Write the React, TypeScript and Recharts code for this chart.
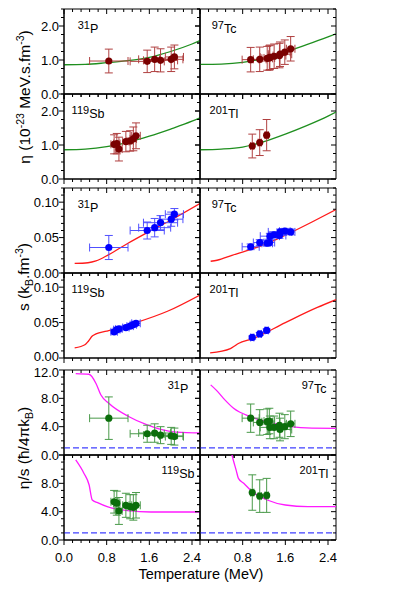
import React from 'react';
import { ComposedChart, Line, Scatter, XAxis, YAxis, ErrorBar, ReferenceArea, ReferenceLine } from 'recharts';

// ---------- axis ticks ----------
const X_MAX = 2.55;
const X_TICKS = [0, 0.16, 0.32, 0.48, 0.64, 0.8, 0.96, 1.12, 1.28, 1.44, 1.6, 1.76, 1.92, 2.08, 2.24, 2.4];
const X_MAJOR = [0, 0.8, 1.6, 2.4];
const ETA_TICKS = [0, 0.25, 0.5, 0.75, 1, 1.25, 1.5, 1.75, 2, 2.25, 2.5];
const ETA_MAJOR = [0, 1, 2];
const S_TICKS = [0, 0.01, 0.02, 0.03, 0.04, 0.05, 0.06, 0.07, 0.08, 0.09, 0.1, 0.11, 0.12];
const S_MAJOR = [0, 0.05, 0.1];
const R_TICKS = [0, 1, 2, 3, 4, 5, 6, 7, 8, 9, 10, 11, 12];
const R_MAJOR = [0, 4, 8, 12];
const KSS = 1.0;

// ---------- 31P ----------
const P31_T = [0.84, 1.56, 1.70, 1.81, 2.01, 2.07];
const P31_T_ERR = [0.36, 0.32, 0.30, 0.32, 0.22, 0.17];
const P31_ETA = [0.97, 0.96, 1.02, 0.99, 1.02, 1.09];
const P31_ETA_ERR = [0.35, 0.33, 0.36, 0.34, 0.36, 0.35];
const P31_S = [0.036, 0.060, 0.064, 0.071, 0.076, 0.083];
const P31_S_ERR = [0.017, 0.012, 0.013, 0.010, 0.010, 0.008];
const P31_RATIO = [5.2, 3.0, 3.1, 2.8, 2.7, 2.6];
const P31_RATIO_ERR = [3.0, 1.2, 1.3, 1.2, 1.2, 1.2];
const P31_ETA_CURVE = [[0, 0.86], [0.4, 0.87], [0.8, 0.92], [1.2, 0.98], [1.6, 1.08], [2.0, 1.25], [2.4, 1.47], [2.55, 1.57]];
const P31_S_CURVE = [[0.2, 0.0135], [0.45, 0.0145], [0.6, 0.017], [0.84, 0.026], [1.2, 0.042], [1.56, 0.057], [2.06, 0.077], [2.55, 0.098]];
const P31_RATIO_CURVE = [[0.22, 11.5], [0.47, 11.4], [0.6, 10.1], [0.69, 8.5], [0.84, 7.3], [1.22, 5.4], [1.56, 4.24], [1.94, 3.4], [2.3, 3.15], [2.55, 3.12]];

// ---------- 97Tc ----------
const TC97_T = [0.95, 1.12, 1.26, 1.30, 1.31, 1.39, 1.49, 1.50, 1.59, 1.70];
const TC97_T_ERR = [0.16, 0.12, 0.10, 0.10, 0.18, 0.10, 0.12, 0.22, 0.10, 0.08];
const TC97_ETA = [1.01, 1.02, 1.05, 1.06, 1.08, 1.11, 1.13, 1.17, 1.23, 1.33];
const TC97_ETA_ERR = [0.36, 0.36, 0.35, 0.36, 0.36, 0.36, 0.36, 0.36, 0.36, 0.36];
const TC97_S = [0.037, 0.043, 0.042, 0.043, 0.052, 0.054, 0.053, 0.058, 0.059, 0.058];
const TC97_S_ERR = [0.004, 0.004, 0.004, 0.004, 0.004, 0.004, 0.004, 0.004, 0.004, 0.004];
const TC97_RATIO = [5.2, 4.6, 4.7, 4.8, 3.9, 3.9, 4.2, 3.6, 4.0, 4.4];
const TC97_RATIO_ERR = [2.0, 1.8, 1.8, 1.8, 1.6, 1.6, 1.7, 1.6, 1.7, 1.8];
const TC97_ETA_CURVE = [[0, 0.87], [0.4, 0.88], [0.8, 0.93], [1.2, 1.05], [1.6, 1.23], [2.0, 1.45], [2.4, 1.68], [2.55, 1.77]];
const TC97_S_CURVE = [[0.2, 0.0166], [0.32, 0.018], [0.6, 0.025], [0.95, 0.0333], [1.3, 0.043], [1.7, 0.057], [2.1, 0.072], [2.55, 0.0895]];
const TC97_RATIO_CURVE = [[0.2, 9.9], [0.3, 9.2], [0.44, 8.0], [0.63, 6.6], [0.95, 5.4], [1.25, 4.7], [1.7, 4.0], [2.1, 3.8], [2.55, 3.77]];

// ---------- 119Sb ----------
const SB119_T = [0.94, 0.99, 1.03, 1.16, 1.24, 1.30, 1.35];
const SB119_T_ERR = [0.06, 0.06, 0.06, 0.06, 0.06, 0.06, 0.08];
const SB119_ETA = [1.02, 1.04, 0.88, 1.10, 1.12, 1.18, 1.27];
const SB119_ETA_ERR = [0.28, 0.30, 0.35, 0.30, 0.30, 0.35, 0.38];
const SB119_S = [0.037, 0.040, 0.041, 0.043, 0.045, 0.047, 0.049];
const SB119_S_ERR = [0.003, 0.003, 0.003, 0.003, 0.003, 0.003, 0.003];
const SB119_RATIO = [5.4, 5.2, 4.1, 4.9, 4.7, 4.6, 4.9];
const SB119_RATIO_ERR = [1.6, 1.7, 1.9, 1.7, 1.7, 1.8, 1.8];
const SB119_ETA_CURVE = [[0, 0.86], [0.4, 0.88], [0.8, 0.95], [1.2, 1.08], [1.6, 1.26], [2.0, 1.47], [2.4, 1.70], [2.55, 1.80]];
const SB119_S_CURVE = [[0.2, 0.0143], [0.4, 0.019], [0.46, 0.024], [0.53, 0.031], [0.6, 0.034], [0.8, 0.038], [1.31, 0.049], [1.94, 0.066], [2.55, 0.089]];
const SB119_RATIO_CURVE = [[0.22, 11.3], [0.375, 9.4], [0.47, 7.8], [0.53, 5.65], [0.63, 5.27], [0.81, 4.7], [1.19, 4.14], [1.63, 3.95], [2.55, 3.95]];

// ---------- 201Tl ----------
const TL201_T = [0.98, 1.12, 1.25];
const TL201_T_ERR = [0.03, 0.03, 0.03];
const TL201_ETA = [0.97, 1.07, 1.29];
const TL201_ETA_ERR = [0.35, 0.38, 0.46];
const TL201_S = [0.029, 0.034, 0.039];
const TL201_S_ERR = [0.002, 0.002, 0.002];
const TL201_RATIO = [6.7, 6.2, 6.3];
const TL201_RATIO_ERR = [2.5, 2.3, 2.4];
const TL201_ETA_CURVE = [[0, 0.86], [0.4, 0.88], [0.8, 0.94], [1.2, 1.10], [1.6, 1.32], [2.0, 1.57], [2.4, 1.85], [2.55, 1.97]];
const TL201_S_CURVE = [[0.19, 0.0071], [0.57, 0.0133], [0.65, 0.017], [0.72, 0.0204], [0.98, 0.027], [1.6, 0.050], [2.2, 0.0714], [2.55, 0.0823]];
const TL201_RATIO_CURVE = [[0.55, 13.5], [0.58, 12.6], [0.62, 11.4], [0.68, 9.8], [0.72, 8.7], [0.82, 8.0], [0.98, 6.8], [1.26, 5.65], [1.6, 4.94], [2.02, 4.7], [2.55, 4.7]];

// ---------- layout ----------
const PW = 136;
const PH = 85;
const COLS = [64, 200];
const ROWS = [9, 94, 188, 273, 370, 455];
const ML = 50, MT = 12, MR = 12, MB = 32;
const FONT = "'Liberation Sans', Arial, sans-serif";
const TICK_FONT = 13;

const ETA_DOT = '#7a0000';
const ETA_ERR = '#b04040';
const GREEN = '#1f8f1f';
const S_DOT = '#0000ff';
const S_ERR = '#5050ff';
const RED = '#ff1a1a';
const R_DOT = '#0b6e0b';
const R_ERR = '#4a9a4a';
const MAGENTA = '#ff1aff';
const DASH = '#4040ff';

const near = (a: number, list: number[]) => list.some((b) => Math.abs(a - b) < 1e-6);

function toPts(T: number[], TE: number[], V: number[], VE: number[]) {
  return T.map((t, i) => ({ T: t, v: V[i], ex: TE[i], ey: VE[i] }));
}
function toCurve(c: number[][]) {
  return c.map(([t, v]) => ({ T: t, v }));
}

type PanelProps = {
  left: number;
  top: number;
  yMax: number;
  yTicks: number[];
  yMajor: number[];
  yDigits: number;
  curve: number[][];
  pts: { T: number; v: number; ex: number; ey: number }[];
  curveColor: string;
  dotColor: string;
  errColor: string;
  showXLabels: boolean;
  isLeft: boolean;
  hideTopLabel: boolean;
  topShift?: number;
  bottomShift?: number;
  kss?: boolean;
};

function Panel(p: PanelProps) {
  const W = ML + PW + MR;
  const H = MT + PH + MB;
  const plotTop = MT;
  const plotRight = ML + PW;

  const xTick = (props: any) => {
    const { x, y, payload } = props;
    const v = payload.value;
    const major = near(v, X_MAJOR);
    const len = major ? 5 : 3;
    const showLabel = p.showXLabels && major && (p.isLeft || v > 0);
    return (
      <g>
        <line x1={x} x2={x} y1={y} y2={y + len} stroke="#000" strokeWidth={1} />
        <line x1={x} x2={x} y1={plotTop} y2={plotTop + len} stroke="#000" strokeWidth={1} />
        {showLabel && (
          <text x={x} y={y + 21.5} textAnchor="middle" fontSize={TICK_FONT} fontFamily={FONT} fill="#000">
            {v.toFixed(1)}
          </text>
        )}
      </g>
    );
  };

  const yTick = (props: any) => {
    const { x, y, payload } = props;
    const v = payload.value;
    const major = near(v, p.yMajor);
    const len = major ? 5 : 3;
    const isTop = Math.abs(v - p.yMax) < 1e-6;
    const isBottom = Math.abs(v) < 1e-9;
    const showLabel = p.isLeft && major && !(isTop && p.hideTopLabel);
    const shift = isTop ? p.topShift || 0 : isBottom ? p.bottomShift || 0 : 0;
    return (
      <g>
        <line x1={x} x2={x - len} y1={y} y2={y} stroke="#000" strokeWidth={1} />
        <line x1={plotRight} x2={plotRight - len} y1={y} y2={y} stroke="#000" strokeWidth={1} />
        {showLabel && (
          <text x={x - 5} y={y + shift} dy="0.36em" textAnchor="end" fontSize={TICK_FONT} fontFamily={FONT} fill="#000">
            {v.toFixed(p.yDigits)}
          </text>
        )}
      </g>
    );
  };

  const dot = (props: any) => <circle cx={props.cx} cy={props.cy} r={3.6} fill={p.dotColor} />;

  return (
    <div style={{ position: 'absolute', left: p.left - ML, top: p.top - MT, width: W, height: H }}>
      <ComposedChart width={W} height={H} margin={{ top: MT, right: MR, bottom: 0, left: 0 }}>
        <XAxis
          dataKey="T"
          type="number"
          domain={[0, X_MAX]}
          allowDataOverflow
          ticks={X_TICKS}
          interval={0}
          tickSize={0}
          tickMargin={0}
          tickLine={false}
          axisLine={{ stroke: '#000' }}
          height={MB}
          tick={xTick}
        />
        <YAxis
          type="number"
          domain={[0, p.yMax]}
          allowDataOverflow
          ticks={p.yTicks}
          interval={0}
          tickSize={0}
          tickMargin={0}
          tickLine={false}
          axisLine={{ stroke: '#000' }}
          width={ML}
          tick={yTick}
        />
        <ReferenceArea x1={0} x2={X_MAX} y1={0} y2={p.yMax} fill="none" stroke="#000" strokeWidth={1} ifOverflow="visible" />
        {p.kss && <ReferenceLine y={KSS} stroke={DASH} strokeWidth={1.1} strokeDasharray="6 3" />}
        <Line
          data={toCurve(p.curve)}
          dataKey="v"
          type="monotone"
          stroke={p.curveColor}
          strokeWidth={1.3}
          dot={false}
          activeDot={false}
          isAnimationActive={false}
        />
        <Scatter data={p.pts} dataKey="v" shape={dot} isAnimationActive={false}>
          <ErrorBar dataKey="ex" direction="x" width={4} stroke={p.errColor} strokeWidth={1} />
          <ErrorBar dataKey="ey" direction="y" width={4} stroke={p.errColor} strokeWidth={1} />
        </Scatter>
      </ComposedChart>
    </div>
  );
}

function NucLabel({ x, y, num, el }: { x: number; y: number; num: string; el: string }) {
  return (
    <text x={x} y={y} textAnchor="middle" fontFamily={FONT} fill="#000">
      <tspan fontSize={11}>{num}</tspan>
      <tspan fontSize={12.5} dy={3.5}>{el}</tspan>
    </text>
  );
}

type Nuc = {
  num: string;
  el: string;
  T: number[];
  TE: number[];
  eta: number[];
  etaE: number[];
  s: number[];
  sE: number[];
  r: number[];
  rE: number[];
  etaC: number[][];
  sC: number[][];
  rC: number[][];
};

const NUCS: Nuc[] = [
  { num: '31', el: 'P', T: P31_T, TE: P31_T_ERR, eta: P31_ETA, etaE: P31_ETA_ERR, s: P31_S, sE: P31_S_ERR, r: P31_RATIO, rE: P31_RATIO_ERR, etaC: P31_ETA_CURVE, sC: P31_S_CURVE, rC: P31_RATIO_CURVE },
  { num: '97', el: 'Tc', T: TC97_T, TE: TC97_T_ERR, eta: TC97_ETA, etaE: TC97_ETA_ERR, s: TC97_S, sE: TC97_S_ERR, r: TC97_RATIO, rE: TC97_RATIO_ERR, etaC: TC97_ETA_CURVE, sC: TC97_S_CURVE, rC: TC97_RATIO_CURVE },
  { num: '119', el: 'Sb', T: SB119_T, TE: SB119_T_ERR, eta: SB119_ETA, etaE: SB119_ETA_ERR, s: SB119_S, sE: SB119_S_ERR, r: SB119_RATIO, rE: SB119_RATIO_ERR, etaC: SB119_ETA_CURVE, sC: SB119_S_CURVE, rC: SB119_RATIO_CURVE },
  { num: '201', el: 'Tl', T: TL201_T, TE: TL201_T_ERR, eta: TL201_ETA, etaE: TL201_ETA_ERR, s: TL201_S, sE: TL201_S_ERR, r: TL201_RATIO, rE: TL201_RATIO_ERR, etaC: TL201_ETA_CURVE, sC: TL201_S_CURVE, rC: TL201_RATIO_CURVE },
];

export default function App() {
  const panels: React.ReactNode[] = [];
  const labels: React.ReactNode[] = [];
  NUCS.forEach((n, idx) => {
    const col = idx % 2;
    const sub = Math.floor(idx / 2); // 0 = upper row in group, 1 = lower row
    const left = COLS[col];
    const isLeft = col === 0;
    // eta group
    const rEta = ROWS[sub];
    panels.push(
      <Panel key={'eta' + idx} left={left} top={rEta} yMax={2.5} yTicks={ETA_TICKS} yMajor={ETA_MAJOR} yDigits={1}
        curve={n.etaC} pts={toPts(n.T, n.TE, n.eta, n.etaE)} curveColor={GREEN} dotColor={ETA_DOT} errColor={ETA_ERR}
        showXLabels={false} isLeft={isLeft} hideTopLabel={sub === 1} />
    );
    labels.push(<NucLabel key={'le' + idx} x={left + 24} y={rEta + 20} num={n.num} el={n.el} />);
    // s group
    const rS = ROWS[2 + sub];
    panels.push(
      <Panel key={'s' + idx} left={left} top={rS} yMax={0.12} yTicks={S_TICKS} yMajor={S_MAJOR} yDigits={2}
        curve={n.sC} pts={toPts(n.T, n.TE, n.s, n.sE)} curveColor={RED} dotColor={S_DOT} errColor={S_ERR}
        showXLabels={false} isLeft={isLeft} hideTopLabel={sub === 1} bottomShift={sub === 1 ? -1.5 : 0} />
    );
    labels.push(<NucLabel key={'ls' + idx} x={left + 24} y={rS + 20} num={n.num} el={n.el} />);
    // ratio group
    const rR = ROWS[4 + sub];
    panels.push(
      <Panel key={'r' + idx} left={left} top={rR} yMax={12} yTicks={R_TICKS} yMajor={R_MAJOR} yDigits={1}
        curve={n.rC} pts={toPts(n.T, n.TE, n.r, n.rE)} curveColor={MAGENTA} dotColor={R_DOT} errColor={R_ERR}
        showXLabels={sub === 1} isLeft={isLeft} hideTopLabel={sub === 1} topShift={sub === 0 ? 2 : 0} kss />
    );
    labels.push(<NucLabel key={'lr' + idx} x={left + PW - 22} y={rR + 19} num={n.num} el={n.el} />);
  });

  return (
    <div style={{ position: 'absolute', left: 0, top: 0, width: 393, height: 598, background: '#fff' }}>
      {panels}
      <svg width={393} height={598} style={{ position: 'absolute', left: 0, top: 0, pointerEvents: 'none' }}>
        {labels}
        <text transform="translate(30,97) rotate(-90)" textAnchor="middle" fontFamily={FONT} fontSize={15.5} fill="#000">
          <tspan>η (10</tspan>
          <tspan fontSize={10.5} dy={-6}>-23</tspan>
          <tspan dy={6}> MeV.s.fm</tspan>
          <tspan fontSize={10.5} dy={-6}>-3</tspan>
          <tspan dy={6}>)</tspan>
        </text>
        <text transform="translate(29,277) rotate(-90)" textAnchor="middle" fontFamily={FONT} fontSize={15.5} fill="#000">
          <tspan>s (k</tspan>
          <tspan fontSize={10.5} dy={4}>B</tspan>
          <tspan dy={-4}>.fm</tspan>
          <tspan fontSize={10.5} dy={-6}>-3</tspan>
          <tspan dy={6}>)</tspan>
        </text>
        <text transform="translate(29,448) rotate(-90)" textAnchor="middle" fontFamily={FONT} fontSize={15.5} fill="#000">
          <tspan>η/s (ħ/4πk</tspan>
          <tspan fontSize={10.5} dy={4}>B</tspan>
          <tspan dy={-4}>)</tspan>
        </text>
        <text x={201} y={579} textAnchor="middle" fontFamily={FONT} fontSize={14.5} fill="#000">
          Temperature (MeV)
        </text>
      </svg>
    </div>
  );
}
